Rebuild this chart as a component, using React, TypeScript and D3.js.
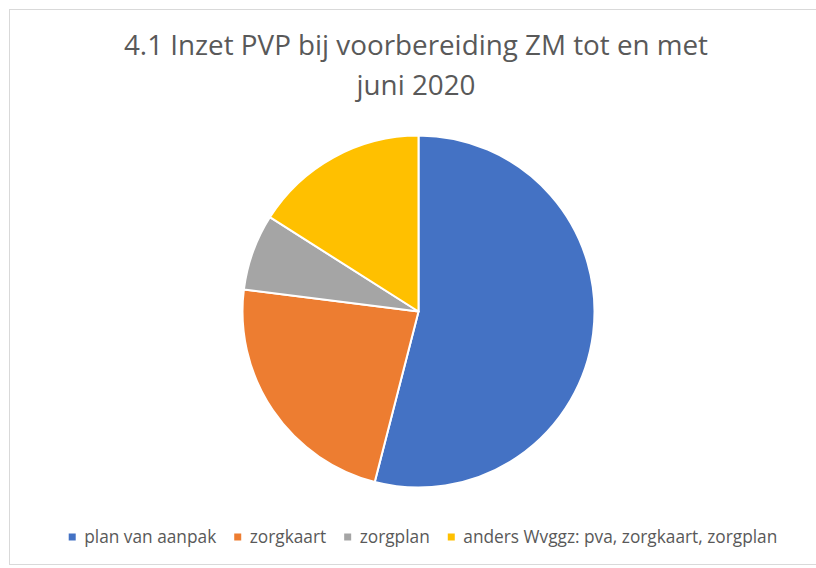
import { useEffect, useRef } from 'react'
import * as d3 from 'd3'

const categories = ['plan van aanpak', 'zorgkaart', 'zorgplan', 'anders Wvggz: pva, zorgkaart, zorgplan']
const values = [54, 23, 7, 16]
const colors = ['#4472C4', '#ED7D31', '#A5A5A5', '#FFC000']
const titleLines = ['4.1 Inzet PVP bij voorbereiding ZM tot en met', 'juni 2020']

const W = 816
const H = 568
const FONT = "'Open Sans', sans-serif"

export default function App() {
  const svgRef = useRef<SVGSVGElement>(null)

  useEffect(() => {
    const svg = d3.select(svgRef.current)
    svg.selectAll('*').remove()

    // chart area frame
    svg.append('rect')
      .attr('x', 9.5).attr('y', 9.5)
      .attr('width', W + 20).attr('height', 555)
      .attr('fill', '#fff')
      .attr('stroke', '#d9d9d9')

    // title
    svg.append('text')
      .attr('text-anchor', 'middle')
      .attr('fill', '#595959')
      .style('font-family', FONT)
      .style('font-size', '27.8px')
      .selectAll('tspan')
      .data(titleLines)
      .join('tspan')
      .attr('x', 416)
      .attr('y', (_, i) => 55 + i * 40)
      .text(d => d)

    // pie
    const cx = 418.5, cy = 311.5, r = 176
    const pie = d3.pie<number>().sort(null)(values)
    const arc = d3.arc<d3.PieArcDatum<number>>().innerRadius(0).outerRadius(r)
    svg.append('g')
      .attr('transform', `translate(${cx},${cy})`)
      .selectAll('path')
      .data(pie)
      .join('path')
      .attr('d', arc)
      .attr('fill', (_, i) => colors[i])
      .attr('stroke', '#fff')
      .attr('stroke-width', 2)
      .attr('stroke-linejoin', 'round')

    // legend
    const lg = svg.append('g')
    const items = lg.selectAll('g')
      .data(categories)
      .join('g')
    items.append('rect')
      .attr('width', 7).attr('height', 7)
      .attr('y', -3.5)
      .attr('fill', (_, i) => colors[i])
    items.append('text')
      .attr('x', 15.5)
      .attr('dy', '0.35em')
      .attr('fill', '#595959')
      .style('font-family', FONT)
      .style('font-size', '17.3px')
      .text(d => d)

    const widths: number[] = []
    items.each(function () {
      const t = d3.select(this).select('text').node() as SVGTextElement
      widths.push(15.5 + t.getComputedTextLength())
    })
    const gap = 18
    const total = d3.sum(widths) + gap * (widths.length - 1)
    let x = 423 - total / 2
    items.attr('transform', (_, i) => {
      const tx = x
      x += widths[i] + gap
      return `translate(${tx},537)`
    })
  }, [])

  return <svg ref={svgRef} width={W} height={H} style={{ display: 'block', position: 'absolute', left: 0, top: 0 }} />
}
